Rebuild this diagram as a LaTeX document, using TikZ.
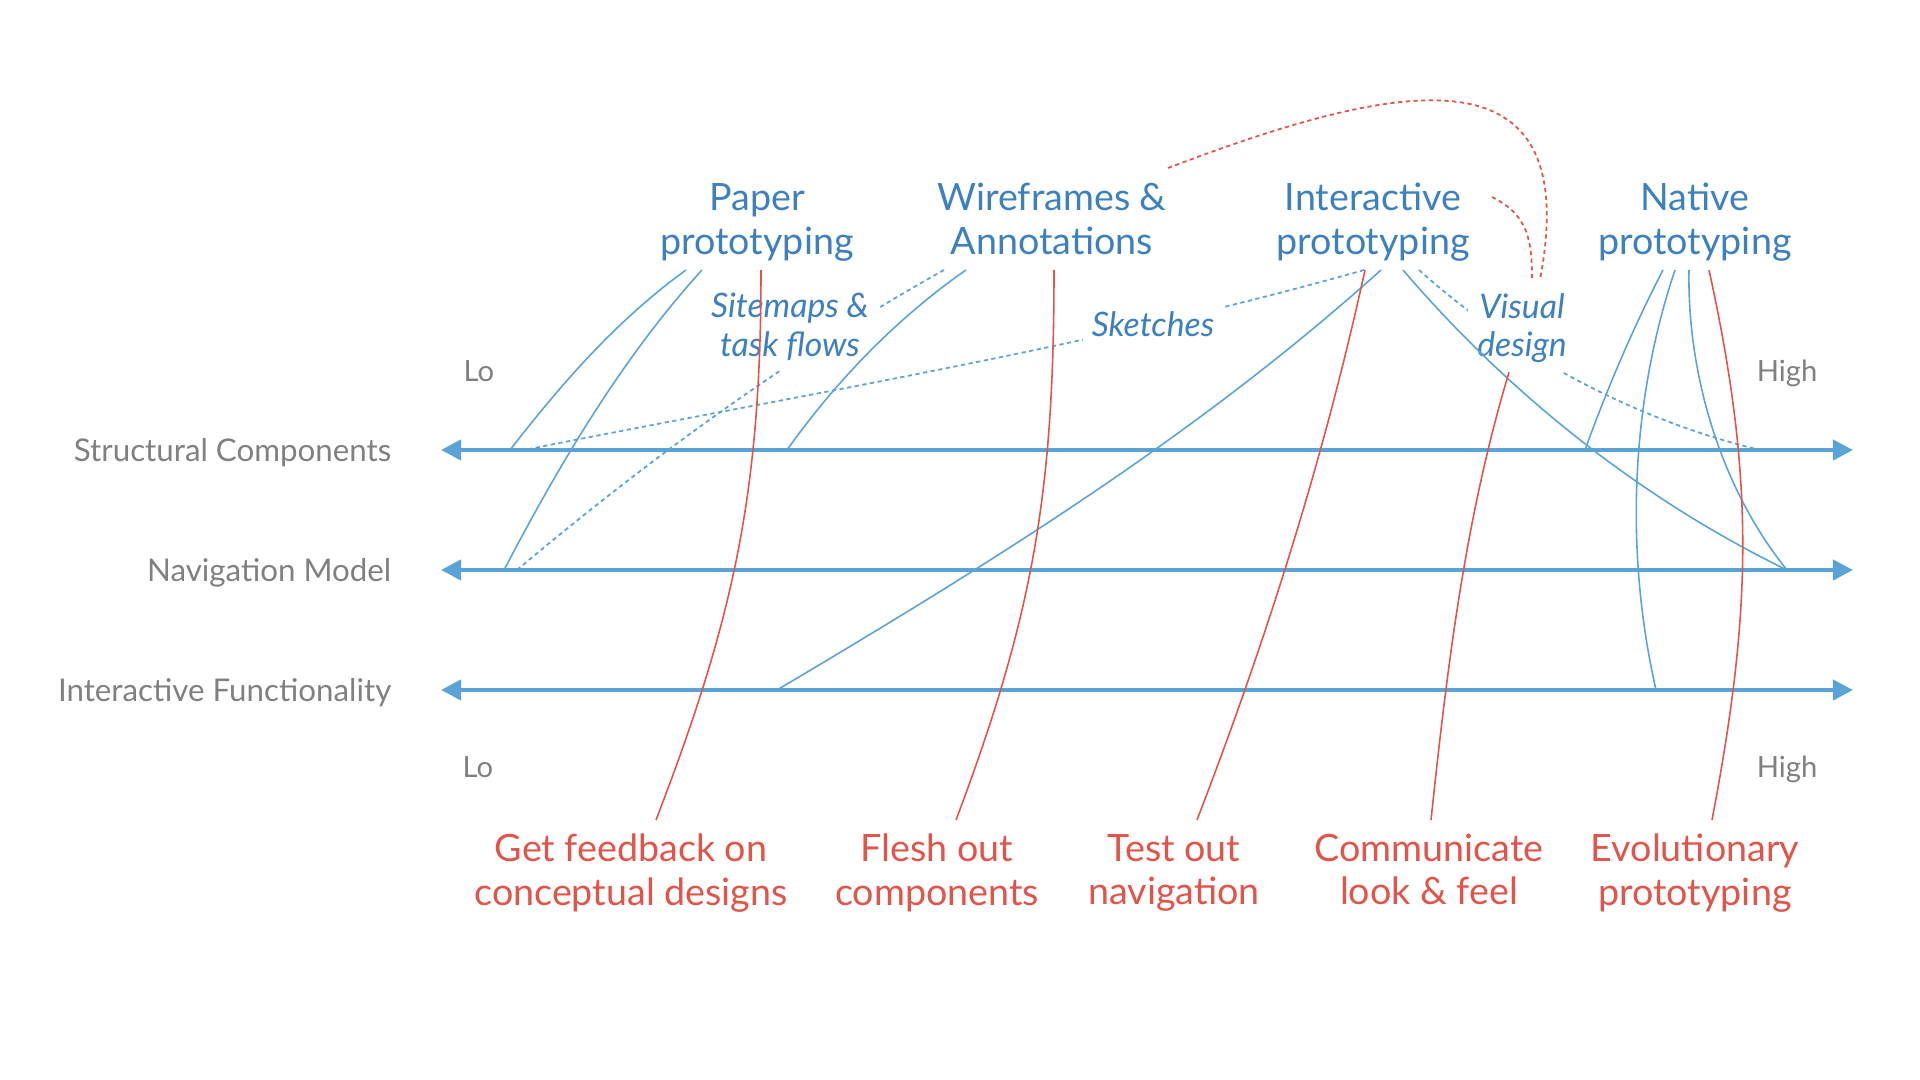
\documentclass[tikz,border=0pt]{standalone}
\usepackage{fontspec}
\setmainfont{Lato}
\usetikzlibrary{arrows.meta,calc}
\definecolor{axblue}{RGB}{91,163,215}
\definecolor{txblue}{RGB}{61,128,192}
\definecolor{tred}{RGB}{224,84,74}
\definecolor{tgray}{RGB}{128,128,128}
\begin{document}
\begin{tikzpicture}[x=0.01cm,y=-0.01cm,
    proto/.style={txblue,align=center,anchor=south,inner sep=3pt,text depth=0.12em,font=\fontsize{10.7}{12.4}\selectfont},
    goal/.style={tred,align=center,anchor=north,inner xsep=3pt,inner ysep=3.8pt,font=\fontsize{10.7}{12.3}\selectfont},
    dimlab/.style={tgray,anchor=base east,inner sep=0pt,font=\fontsize{8.9}{11}\selectfont},
    lohi/.style={tgray,inner sep=0pt,font=\fontsize{8.3}{10}\selectfont},
    note/.style={txblue,align=center,fill=white,inner sep=2.5pt,font=\fontsize{9.6}{11}\selectfont\itshape},
    scaleline/.style={axblue,line width=1.15pt,{Triangle[length=5.7pt,width=5.7pt]}-{Triangle[length=5.7pt,width=5.7pt]}},
    tie/.style={axblue,line width=0.45pt},
    tiedot/.style={axblue,line width=0.5pt,dash pattern=on 1.2pt off 1pt},
    need/.style={tred,line width=0.45pt},
    needdot/.style={tred,line width=0.5pt,dash pattern=on 1.2pt off 1pt}]
\useasboundingbox (0,0) rectangle (1920,1080);

\coordinate (s-l) at (441,450); \coordinate (s-r) at (1853,450);
\coordinate (n-l) at (441,570); \coordinate (n-r) at (1853,570);
\coordinate (f-l) at (441,690); \coordinate (f-r) at (1853,690);
\draw[scaleline] (s-l)--(s-r);
\draw[scaleline] (n-l)--(n-r);
\draw[scaleline] (f-l)--(f-r);

\coordinate (s1) at (510,450); \coordinate (s2) at (787,450); \coordinate (s3) at (1585,450);
\coordinate (sk) at (524,450); \coordinate (sv) at (1760,450);
\coordinate (n1) at (504,570); \coordinate (n2) at (1787,570); \coordinate (nd) at (517,570);
\coordinate (f1) at (777,690); \coordinate (f2) at (1656,690);

\node[dimlab] (struct) at (392,462) {Structural Components};
\node[dimlab] (navmod) at (392,582) {Navigation Model};
\node[dimlab] (intfun) at (392,702) {Interactive Functionality};
\node[lohi,anchor=base west] (lo1) at (463,382) {Lo};
\node[lohi,anchor=base east] (hi1) at (1818,382) {High};
\node[lohi,anchor=base west] (lo2) at (462,778) {Lo};
\node[lohi,anchor=base east] (hi2) at (1818,778) {High};

\node[proto] (paper) at (757,270) {Paper\\prototyping};
\node[proto] (wire) at (1052,270) {Wireframes \&\\Annotations};
\node[proto] (inter) at (1373,270) {Interactive\\prototyping};
\node[proto] (native) at (1695,270) {Native\\prototyping};

\node[goal] (feedback) at (631,820) {Get feedback on\\conceptual designs};
\node[goal] (flesh) at (937,820) {Flesh out\\components};
\node[goal] (testnav) at (1174,820) {Test out\\navigation};
\node[goal] (lookfeel) at (1429,820) {Communicate\\look \& feel};
\node[goal] (evolve) at (1695,820) {Evolutionary\\prototyping};

\draw[tiedot] ($(wire.south)+(-108,0)$) .. controls +(-152,85) and +(133,-112) .. (nd);
\draw[tiedot] ($(inter.south)+(-9,0)$) .. controls +(-275,78) and +(281,-56) .. (sk);
\draw[tiedot] ($(inter.south)+(46,0)$) .. controls +(96,86) and +(-125,-30) .. (sv);

\node[note] (sitemap) at (790,327) {Sitemaps \&\\task flows};
\node[note] (sketch) at (1153,324) {Sketches};
\node[note] (visual) at (1522,328) {Visual\\design};

\draw[tie] ($(paper.south)+(-71,0)$) .. controls +(-69,50) and +(52,-67) .. (s1);
\draw[tie] ($(paper.south)+(-55,0)$) .. controls +(-80,88) and +(55,-105) .. (n1);
\draw[tie] ($(wire.south)+(-86,0)$) .. controls +(-69,48) and +(49,-69) .. (s2);
\draw[tie] ($(inter.south)+(8,0)$) .. controls +(-183,165) and +(211,-125) .. (f1);
\draw[tie] ($(inter.south)+(30,0)$) .. controls +(106,124) and +(-146,-71) .. (n2);
\draw[tie] ($(native.south)+(-32,0)$) .. controls +(-30,58) and +(22,-61) .. (s3);
\draw[tie] ($(native.south)+(-20,0)$) .. controls +(-45,134) and +(-31,-136) .. (f2);
\draw[tie] ($(native.south)+(-6,0)$) .. controls +(-2,106) and +(-65,-80) .. (n2);

\draw[need] ($(paper.south)+(4,0)$) .. controls +(0,220) and +(79,-205) .. ($(feedback.north)+(25,0)$);
\draw[need] ($(wire.south)+(2,0)$) .. controls +(0,220) and +(78,-207) .. ($(flesh.north)+(19,0)$);
\draw[need] ($(inter.south)+(-8,0)$) .. controls +(-41,188) and +(69,-179) .. ($(testnav.north)+(23,0)$);
\draw[need] ($(visual.south)+(-13,0)$) .. controls +(-44,146) and +(16,-151) .. ($(lookfeel.north)+(2,0)$);
\draw[need] ($(native.south)+(14,0)$) .. controls +(46,210) and +(40,-210) .. ($(evolve.north)+(17,0)$);

\draw[needdot] ($(wire.south)+(116,-102)$) .. controls +(232,-88) and +(45,-237) .. ($(visual.north)+(18,-4)$);
\draw[needdot] ($(inter.south)+(119,-73)$) .. controls +(36,18) and +(0,-40) .. ($(visual.north)+(10,-4)$);
\end{tikzpicture}
\end{document}
